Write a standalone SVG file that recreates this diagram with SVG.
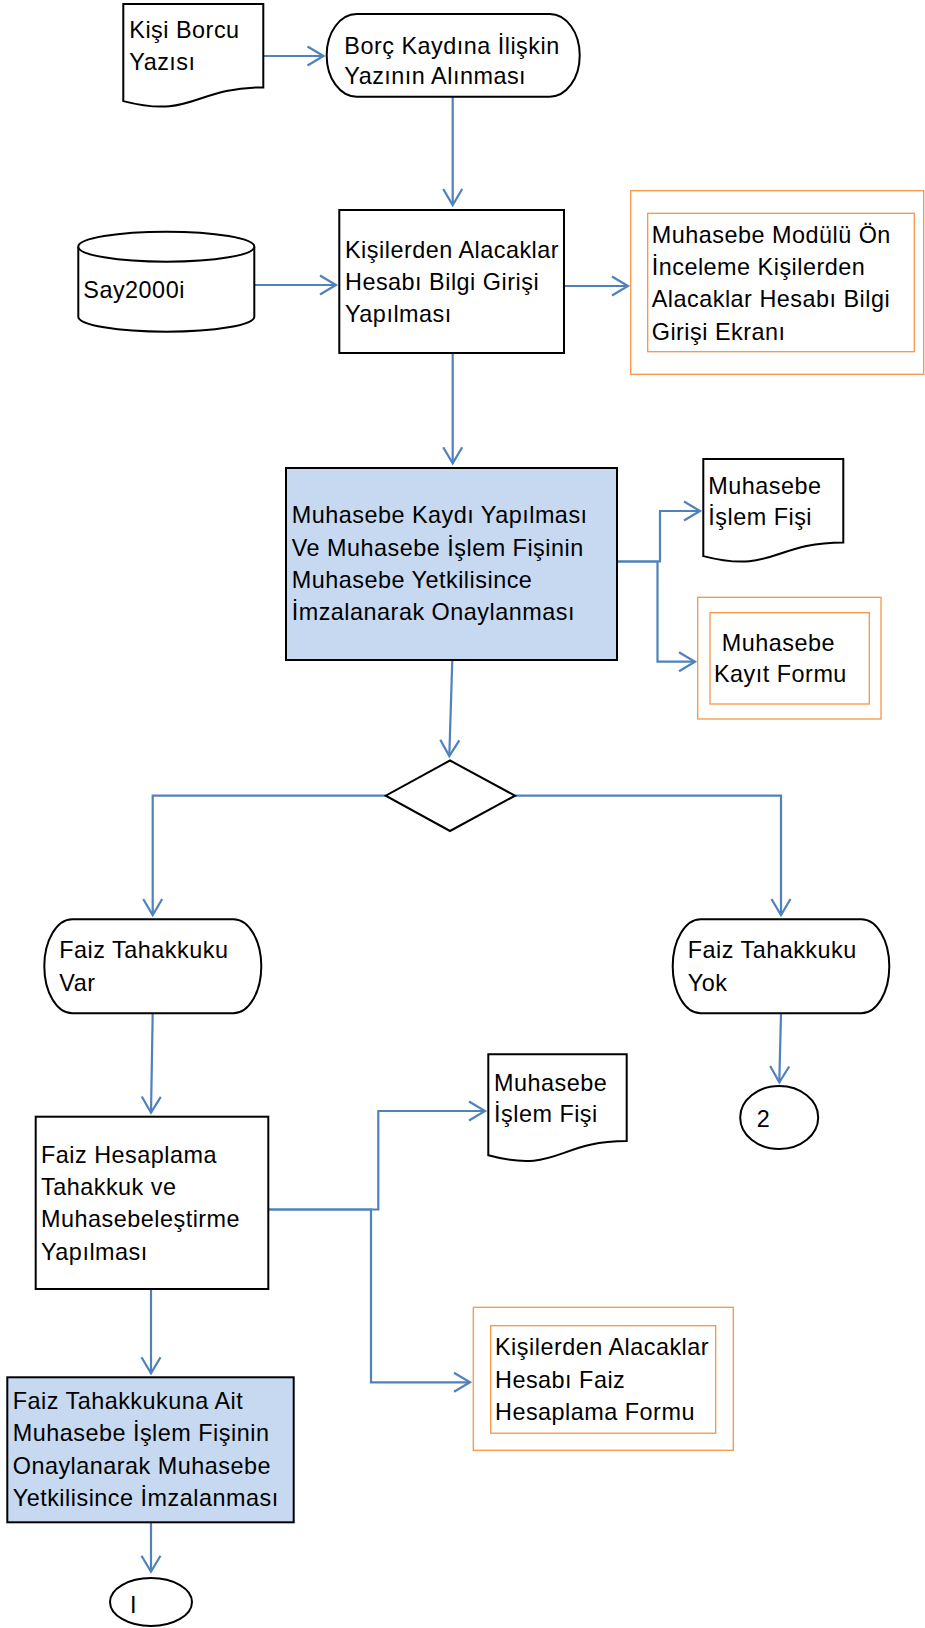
<svg xmlns="http://www.w3.org/2000/svg" width="925" height="1628" viewBox="0 0 925 1628">
<style>
.t{font-family:"Liberation Sans","Arial",sans-serif;font-size:23.4px;letter-spacing:0.5px;fill:#000}
.n{fill:#fff;stroke:#000;stroke-width:2}
.b{fill:#C6D9F1;stroke:#000;stroke-width:2}
.o{fill:#fff;stroke:#F79646;stroke-width:1.3}
.c{fill:none;stroke:#4F81BD;stroke-width:2.2;marker-end:url(#ah)}
</style>
<defs>
<marker id="ah" markerUnits="userSpaceOnUse" viewBox="-19 -12 22 24" markerWidth="22" markerHeight="24" refX="0" refY="0" orient="auto">
<path d="M-16,-9.5 L0,0 L-16,9.5" fill="none" stroke="#4F81BD" stroke-width="2.2"/>
</marker>
</defs>
<g id="connectors">
<path class="c" d="M263.3,56 H323.5"/>
<path class="c" d="M452.7,96.7 V205"/>
<path class="c" d="M254.3,285 H336"/>
<path class="c" d="M564,286 H628"/>
<path class="c" d="M452.7,353 V463.3"/>
<path class="c" d="M616.7,561.5 H660 V511 H700"/>
<path class="c" d="M616.7,561.5 H657.5 V661.7 H695"/>
<path class="c" d="M452.3,660 L449.3,756"/>
<path class="c" d="M385.7,795.7 H152.7 V915"/>
<path class="c" d="M515,795.7 H781 V915"/>
<path class="c" d="M152.7,1013.3 L151,1112.7"/>
<path class="c" d="M781,1013.3 L779.3,1082.3"/>
<path class="c" d="M268.3,1209.5 H378.3 V1111 H485"/>
<path class="c" d="M268.3,1209.5 H371 V1382.3 H470"/>
<path class="c" d="M151,1289 V1373.3"/>
<path class="c" d="M151,1522.3 V1571.7"/>
</g>
<g id="kisi-borcu-yazisi">
<path class="n" stroke-width="1.6" d="M123.3,4 H263.3 V87.4 C193.3,87.4 193.3,119.1 123.3,101.1 Z"/>
<text class="t" x="129.3" y="38.3">Kişi Borcu</text>
<text class="t" x="129.3" y="70">Yazısı</text>
</g>
<g id="borc-kaydina">
<rect class="n" stroke-width="1.6" x="326.7" y="14" width="253" height="82.7" rx="30" ry="41"/>
<text class="t" x="344.3" y="53.5">Borç Kaydına İlişkin</text>
<text class="t" x="344.3" y="84">Yazının Alınması</text>
</g>
<g id="say2000i">
<path class="n" stroke-width="1.6" d="M78.3,246.7 V316.7 A88,15 0 0 0 254.3,316.7 V246.7"/>
<ellipse class="n" stroke-width="1.6" cx="166.3" cy="246.7" rx="88" ry="15"/>
<text class="t" x="83.3" y="298">Say2000i</text>
</g>
<g id="bilgi-girisi">
<rect class="n" x="339.3" y="210" width="224.7" height="143"/>
<text class="t" x="345" y="257.7">Kişilerden Alacaklar</text>
<text class="t" x="345" y="290">Hesabı Bilgi Girişi</text>
<text class="t" x="345" y="322">Yapılması</text>
</g>
<g id="on-inceleme-ekrani">
<rect class="o" x="630.7" y="190.7" width="293" height="183.6"/>
<rect class="o" x="647.7" y="213.3" width="266.6" height="138.4"/>
<text class="t" x="651.7" y="242.7">Muhasebe Modülü Ön</text>
<text class="t" x="651.7" y="275">İnceleme Kişilerden</text>
<text class="t" x="651.7" y="307.3">Alacaklar Hesabı Bilgi</text>
<text class="t" x="651.7" y="339.5">Girişi Ekranı</text>
</g>
<g id="muhasebe-kaydi">
<rect class="b" x="286" y="468" width="331" height="192"/>
<text class="t" x="291.7" y="523.3">Muhasebe Kaydı Yapılması</text>
<text class="t" x="291.7" y="555.6">Ve Muhasebe İşlem Fişinin</text>
<text class="t" x="291.7" y="587.9">Muhasebe Yetkilisince</text>
<text class="t" x="291.7" y="620.2">İmzalanarak Onaylanması</text>
</g>
<g id="islem-fisi-1">
<path class="n" stroke-width="1.6" d="M703.3,459 H843.3 V542.4 C773.3,542.4 773.3,574.1 703.3,556.1 Z"/>
<text class="t" x="708.3" y="494">Muhasebe</text>
<text class="t" x="708.3" y="525">İşlem Fişi</text>
</g>
<g id="kayit-formu">
<rect class="o" x="697.7" y="597.3" width="183.3" height="121.7"/>
<rect class="o" x="710" y="612.7" width="159.3" height="91.3"/>
<text class="t" x="721.7" y="650.7">Muhasebe</text>
<text class="t" x="714" y="682.3">Kayıt Formu</text>
</g>
<g id="karar">
<path class="n" stroke-width="1.6" d="M450,760.5 L515,795.7 L450,831 L385.7,795.7 Z"/>
</g>
<g id="faiz-var">
<rect class="n" stroke-width="1.6" x="44.3" y="919.3" width="217" height="94" rx="28" ry="47"/>
<text class="t" x="59.3" y="958.3">Faiz Tahakkuku</text>
<text class="t" x="59.3" y="990.7">Var</text>
</g>
<g id="faiz-yok">
<rect class="n" stroke-width="1.6" x="672.7" y="919.3" width="216.6" height="94" rx="28" ry="47"/>
<text class="t" x="687.7" y="958.3">Faiz Tahakkuku</text>
<text class="t" x="687.7" y="990.7">Yok</text>
</g>
<g id="baglanti-2">
<ellipse class="n" stroke-width="1.6" cx="779.2" cy="1117.5" rx="39" ry="31.5"/>
<text class="t" x="756.7" y="1127">2</text>
</g>
<g id="faiz-hesaplama">
<rect class="n" x="35.7" y="1116.7" width="232.6" height="172.3"/>
<text class="t" x="41" y="1162.7">Faiz Hesaplama</text>
<text class="t" x="41" y="1195">Tahakkuk ve</text>
<text class="t" x="41" y="1227.3">Muhasebeleştirme</text>
<text class="t" x="41" y="1259.6">Yapılması</text>
</g>
<g id="islem-fisi-2">
<path class="n" stroke-width="1.6" d="M488.3,1054.3 H626.7 V1141 C557.5,1141 557.5,1174 488.3,1155.3 Z"/>
<text class="t" x="494" y="1091">Muhasebe</text>
<text class="t" x="494" y="1121.7">İşlem Fişi</text>
</g>
<g id="faiz-hesaplama-formu">
<rect class="o" x="473.3" y="1307.3" width="260" height="143"/>
<rect class="o" x="490.7" y="1325.7" width="225" height="107.5"/>
<text class="t" x="495" y="1355">Kişilerden Alacaklar</text>
<text class="t" x="495" y="1387.5">Hesabı Faiz</text>
<text class="t" x="495" y="1419.5">Hesaplama Formu</text>
</g>
<g id="faiz-onay">
<rect class="b" x="7.3" y="1377.3" width="286.4" height="145"/>
<text class="t" x="12.7" y="1409">Faiz Tahakkukuna Ait</text>
<text class="t" x="12.7" y="1441.3">Muhasebe İşlem Fişinin</text>
<text class="t" x="12.7" y="1473.6">Onaylanarak Muhasebe</text>
<text class="t" x="12.7" y="1506">Yetkilisince İmzalanması</text>
</g>
<g id="baglanti-1">
<ellipse class="n" stroke-width="1.6" cx="151" cy="1602" rx="41" ry="24"/>
<text class="t" x="130" y="1613">I</text>
</g>
</svg>
